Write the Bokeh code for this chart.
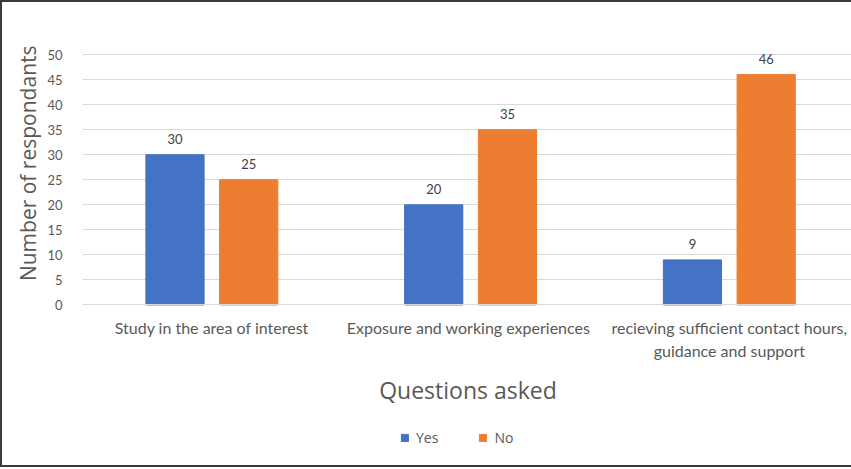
from bokeh.plotting import figure
from bokeh.models import (ColumnDataSource, FixedTicker, LabelSet, Legend, LegendItem, Title)
from bokeh.core.properties import value
from bokeh.transform import dodge
from bokeh.embed import file_html
from bokeh.resources import INLINE

categories = ["Study in the area of interest",
              "Exposure  and working experiences",
              "recieving sufficient contact hours,\nguidance and support"]
yes_vals = [30, 20, 9]
no_vals = [25, 35, 46]
series_names = ["Yes", "No"]
colors = ["#4472C4", "#ED7D31"]
y_ticks = [0, 5, 10, 15, 20, 25, 30, 35, 40, 45, 50]

x_pos = [i + 0.5 for i in range(len(categories))]
src = ColumnDataSource(dict(x=x_pos, yes=yes_vals, no=no_vals,
                            yes_t=[str(v) for v in yes_vals],
                            no_t=[str(v) for v in no_vals]))

p = figure(width=851, height=467, output_backend="svg", toolbar_location=None,
           x_range=(0, 2.98), y_range=(-32.85, 53.2),
           min_border_left=80, min_border_right=0, min_border_top=36,
           min_border_bottom=0)
p.styles = {"border-left": "2px solid #3a3a3a", "border-top": "2px solid #3a3a3a",
            "border-bottom": "2px solid #3a3a3a"}
p.outline_line_color = None
p.background_fill_color = "white"
p.border_fill_color = "white"

bw = 0.225
off = 0.1425
r_yes = p.vbar(x=dodge("x", -off), top="yes", width=bw, source=src, color=colors[0])
r_no = p.vbar(x=dodge("x", off), top="no", width=bw, source=src, color=colors[1])

for col, o in (("yes", -off), ("no", off)):
    lbl = LabelSet(x=dodge("x", o), y=col, text=col + "_t", source=src,
                   text_align="center", text_baseline="middle", y_offset=16,
                   text_font=value("Lato"), text_font_size=value("13px"),
                   text_color="#404040")
    p.add_layout(lbl)

# x axis sits at y = 0
p.xaxis.fixed_location = 0
p.xaxis.ticker = FixedTicker(ticks=x_pos)
p.xaxis.major_label_overrides = {x: c for x, c in zip(x_pos, categories)}
p.xaxis.major_tick_line_color = None
p.xaxis.minor_tick_line_color = None
p.xaxis.axis_line_color = "#d9d9d9"
p.xaxis.major_label_text_font = "Lato"
p.xaxis.major_label_text_font_size = "16px"
p.xaxis.major_label_text_color = "#595959"
p.xaxis.major_label_standoff = 7
p.xaxis.axis_label = "Questions asked"
p.xaxis.axis_label_text_font = "Open Sans"
p.xaxis.axis_label_text_font_size = "23px"
p.xaxis.axis_label_text_font_style = "normal"
p.xaxis.axis_label_text_color = "#595959"
p.xaxis.axis_label_standoff = 12

p.yaxis.ticker = FixedTicker(ticks=y_ticks)
p.yaxis.major_tick_line_color = None
p.yaxis.minor_tick_line_color = None
p.yaxis.axis_line_color = None
p.yaxis.major_label_text_font = "Lato"
p.yaxis.major_label_text_font_size = "13px"
p.yaxis.major_label_text_color = "#595959"
p.yaxis.major_label_standoff = 14

ytitle = Title(text="Number of respondants", align="right", offset=7,
               text_font="Open Sans", text_font_size="21px", text_font_style="normal",
               text_color="#595959", standoff=5)
p.add_layout(ytitle, "left")

p.xgrid.grid_line_color = None
p.ygrid.grid_line_color = "#d9d9d9"
p.ygrid.grid_line_width = 1

legend = Legend(items=[LegendItem(label=series_names[0], renderers=[r_yes]),
                       LegendItem(label=series_names[1], renderers=[r_no])],
                orientation="horizontal", location=(318, 22),
                border_line_color=None, background_fill_alpha=0,
                padding=0, margin=0, spacing=40, label_standoff=7,
                glyph_width=9, glyph_height=9,
                label_text_font="Open Sans", label_text_font_size="14px",
                label_text_color="#595959")
p.add_layout(legend, "center")

open("out.html", "w").write(file_html(p, INLINE))
